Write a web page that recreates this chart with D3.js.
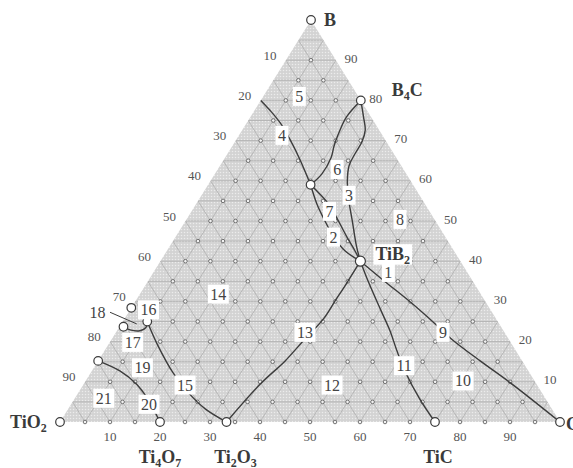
<!DOCTYPE html>
<html>
<head>
<meta charset="utf-8">
<script src="https://cdn.jsdelivr.net/npm/d3@7"></script>
<style>
  html, body { margin: 0; padding: 0; background: #fff; }
  svg { display: block; }
  text { font-family: "Liberation Serif", "DejaVu Serif", serif; }
</style>
</head>
<body>
<svg id="chart" width="573" height="468"></svg>
<script>
// Ternary system B – C – TiO2 (compositions in %, given as [B, C]; TiO2 = 100 - B - C)

const tickValues = [10, 20, 30, 40, 50, 60, 70, 80, 90];

// corner and compound points
const pointNames = ["B", "TiO2", "C", "B4C", "TiB2", "TiC", "Ti2O3", "Ti4O7", "P1", "P2", "P3", "P4", "P5"];
const pointB     = [100, 0,   0,   80, 40, 0,  0,    0,  59,   28.4, 23.7, 25,  15.2];
const pointC     = [0,   0,   100, 20, 40, 75, 33.3, 20, 20.5, 0,    0.8,  4.9, 0];

// phase boundaries, [B, C] pairs
const lineEdgeToP1   = [[80, 0], [77.6, 3.0], [74.4, 6.7], [70.3, 10.7], [65.3, 15.2], [59, 20.5]];
const lineB4CtoP1    = [[80, 20], [75.9, 19.2], [71.7, 19.7], [68.8, 20.3], [65.8, 21.2], [61.8, 21.4], [59, 20.5]];
const lineB4CtoTiB2  = [[80, 20], [75.9, 22.6], [72.6, 24.6], [69.7, 25.4], [66.8, 25.5], [63.8, 25.8], [60.1, 27.3], [55.9, 29.6], [50.1, 33.3], [43.5, 37.5], [40, 40]];
const lineLensLeft   = [[59, 20.5], [54.3, 24.1], [50.1, 27.8], [46, 31.7], [42.6, 35.6], [40, 40]];
const lineLensRight  = [[59, 20.5], [54.3, 26.4], [50.1, 30.5], [46, 34.3], [42.6, 37.6], [40, 40]];
const lineTi2O3toTiB2 = [[0, 33.3], [9.4, 35.3], [15.2, 37.4], [20.6, 38.6], [25.6, 39.8], [30.2, 39.9], [34.7, 40], [40, 40]];
const lineTiB2toTiC  = [[40, 40], [35.2, 43.9], [27.7, 50.3], [22.7, 54.6], [17.7, 58.5], [12.7, 62.6], [5.7, 69.1], [0, 75]];
const lineTiB2toC    = [[40, 40], [34.9, 47.5], [29.9, 55], [24.4, 62.8], [20.6, 68], [15.2, 76.4], [9.8, 85.1], [0, 100]];
const lineP4toTi2O3  = [[25, 4.9], [19.5, 9.6], [12.2, 16.5], [7.3, 22], [3.2, 27.5], [0, 33.3]];
const lineP5toTi4O7  = [[15.2, 0], [12.7, 5.6], [9.4, 10.6], [6.1, 14.3], [0, 20]];
const lineP3toP4     = [[23.7, 0.8], [22.9, 2.5], [22.7, 4.6], [23.5, 5.4], [25, 4.9]];
const leader18       = [[27.3, -3.7], [24.4, 3.1]];
const boundaries = [lineEdgeToP1, lineB4CtoP1, lineB4CtoTiB2, lineLensLeft, lineLensRight,
  lineTi2O3toTiB2, lineTiB2toTiC, lineTiB2toC, lineP4toTi2O3, lineP5toTi4O7, lineP3toP4];

// phase field numbers and their positions
const fieldNumbers = ["5", "4", "6", "3", "7", "8", "2", "1", "14", "16", "17", "13", "9", "19", "15", "11", "12", "10", "21", "20"];
const fieldB       = [81.0, 71.3, 62.8, 56.4, 52.4, 50.4, 46.0, 37.2, 31.8, 27.9, 19.8, 22.3, 22.3, 13.5, 9.2, 14.0, 9.2, 10.2, 5.9, 4.4];
const fieldC       = [7.2,  8.6,  23.9, 29.5, 27.6, 42.7, 31.6, 47.0, 15.7, 3.7,  4.6,  37.8, 65.4, 9.7,  20.4, 61.8, 49.8, 75.5, 5.8, 15.6];
const label18 = { text: "18", b: 27.3, c: -6.2 };

const svg = d3.select("#chart");

// triangle geometry
const apex = { x: 311, y: 20 };
const baseY = 422, baseL = 60, baseR = 560;
const yScale = d3.scaleLinear().domain([0, 100]).range([baseY, apex.y]);      // B content -> height
const cScale = d3.scaleLinear().domain([0, 100]).range([baseL, baseR]);       // C content along base
const slant  = d3.scaleLinear().domain([0, 100]).range([0, apex.x - baseL]);   // shift caused by B content

function proj(b, c) { return [cScale(c) + slant(b), yScale(b)]; }

const line = d3.line().x(d => proj(d[0], d[1])[0]).y(d => proj(d[0], d[1])[1]);
const curve = d3.line().curve(d3.curveCatmullRom.alpha(0.5))
  .x(d => proj(d[0], d[1])[0]).y(d => proj(d[0], d[1])[1]);

// stipple pattern for the field
const defs = svg.append("defs");
const pat = defs.append("pattern").attr("id", "stipple").attr("patternUnits", "userSpaceOnUse")
  .attr("width", 3).attr("height", 3);
pat.append("rect").attr("width", 3).attr("height", 3).attr("fill", "#d3d3d3");
pat.append("circle").attr("cx", 1.5).attr("cy", 1.5).attr("r", 0.75).attr("fill", "#ececec");

const triangle = [[100, 0], [0, 0], [0, 100]];
defs.append("clipPath").attr("id", "tri").append("path").attr("d", line(triangle) + "Z");

svg.append("path").attr("d", line(triangle) + "Z").attr("fill", "url(#stipple)");

// 5 % lattice lines in three directions
const grid = svg.append("g").attr("clip-path", "url(#tri)")
  .attr("stroke", "#a9a9a9").attr("stroke-width", 0.7).attr("fill", "none");
d3.range(5, 100, 5).forEach(v => {
  grid.append("path").attr("d", line([[v, 0], [v, 100 - v]]));          // constant B
  grid.append("path").attr("d", line([[0, v], [100 - v, v]]));          // constant C
  grid.append("path").attr("d", line([[0, 100 - v], [100 - v, 0]]));    // constant TiO2
});

// small lattice markers
const lattice = [];
d3.range(0, 95, 5).forEach(b => {
  d3.range(5, 100 - b, 5).forEach(c => {
    if (b === 0 && (c === 20 || c === 75)) return;
    lattice.push([b, c]);
  });
});
svg.append("g").selectAll("circle").data(lattice).join("circle")
  .attr("cx", d => proj(d[0], d[1])[0]).attr("cy", d => proj(d[0], d[1])[1])
  .attr("r", 1.8).attr("fill", "#f2f2f2").attr("stroke", "#555").attr("stroke-width", 0.8);

// phase boundaries
svg.append("g").selectAll("path").data(boundaries).join("path")
  .attr("d", d => curve(d)).attr("fill", "none").attr("stroke", "#3c3c3c").attr("stroke-width", 1.4);
svg.append("path").attr("d", line(leader18)).attr("stroke", "#3c3c3c").attr("stroke-width", 1);

// compound / corner markers
svg.append("g").selectAll("circle").data(pointNames).join("circle")
  .attr("cx", (d, i) => proj(pointB[i], pointC[i])[0])
  .attr("cy", (d, i) => proj(pointB[i], pointC[i])[1])
  .attr("r", (d, i) => d === "TiB2" ? 5 : 4.3)
  .attr("fill", "#fff").attr("stroke", "#3c3c3c").attr("stroke-width", 1.2);

// field numbers on white boxes
const fields = svg.append("g");
fieldNumbers.forEach((t, i) => {
  const [x, y] = proj(fieldB[i], fieldC[i]);
  const g = fields.append("g");
  const tx = g.append("text").attr("x", x).attr("y", y).attr("text-anchor", "middle")
    .attr("dominant-baseline", "central").attr("font-size", 16).attr("fill", "#444").text(t);
  const bb = tx.node().getBBox();
  g.insert("rect", "text").attr("x", bb.x - 2.5).attr("y", bb.y - 1).attr("width", bb.width + 5)
    .attr("height", bb.height + 2).attr("fill", "#fff");
});
{
  const [x, y] = proj(label18.b, label18.c);
  svg.append("text").attr("x", x).attr("y", y).attr("text-anchor", "middle")
    .attr("dominant-baseline", "central").attr("font-size", 16).attr("fill", "#444").text(label18.text);
}

// axis numbers
const axis = svg.append("g").attr("font-size", 13).attr("fill", "#555");
tickValues.forEach(v => {
  const [bx, by] = proj(0, v);
  axis.append("text").attr("x", bx).attr("y", by + 14).attr("text-anchor", "middle")
    .attr("dominant-baseline", "central").text(v);
  const [lx, ly] = proj(100 - v, 0);
  axis.append("text").attr("x", lx - 16).attr("y", ly - 5).attr("text-anchor", "middle")
    .attr("dominant-baseline", "central").text(v);
  const [rx, ry] = proj(v, 100 - v);
  axis.append("text").attr("x", rx + 15).attr("y", ry - 2).attr("text-anchor", "middle")
    .attr("dominant-baseline", "central").text(v);
});

// compound names with subscripts (parts: plain strings, or [digit] for a subscript)
function formula(parent, parts, x, y, anchor, boxed) {
  const t = parent.append("text").attr("x", x).attr("y", y).attr("text-anchor", anchor)
    .attr("font-size", 18).attr("font-weight", "bold").attr("fill", "#3a3a3a");
  parts.forEach(p => {
    if (typeof p === "string") t.append("tspan").text(p);
    else t.append("tspan").attr("font-size", 12).attr("baseline-shift", "-3.5").text(p[0]);
  });
  if (boxed) {
    const bb = t.node().getBBox();
    parent.insert("rect", () => t.node()).attr("x", bb.x - 2).attr("y", bb.y).attr("width", bb.width + 4)
      .attr("height", bb.height - 2).attr("fill", "#fff");
  }
  return t;
}
const names = svg.append("g");
const pB = proj(100, 0), pO = proj(0, 0), pC = proj(0, 100), pB4C = proj(80, 20),
      pTiB2 = proj(40, 40), pTiC = proj(0, 75), pTi2O3 = proj(0, 33.3), pTi4O7 = proj(0, 20);
formula(names, ["B"], pB[0] + 13, pB[1] + 6, "start");
formula(names, ["TiO", ["2"]], pO[0] - 50, pO[1] + 6, "start");
formula(names, ["C"], pC[0] + 6, pC[1] + 8, "start");
formula(names, ["B", ["4"], "C"], pB4C[0] + 31, pB4C[1] - 4, "start");
formula(names, ["TiB", ["2"]], pTiB2[0] + 15, pTiB2[1] - 1, "start", true);
formula(names, ["TiC"], pTiC[0] + 3, pTiC[1] + 41, "middle");
formula(names, ["Ti", ["2"], "O", ["3"]], pTi2O3[0] + 9, pTi2O3[1] + 41, "middle");
formula(names, ["Ti", ["4"], "O", ["7"]], pTi4O7[0], pTi4O7[1] + 41, "middle");
</script>
</body>
</html>
